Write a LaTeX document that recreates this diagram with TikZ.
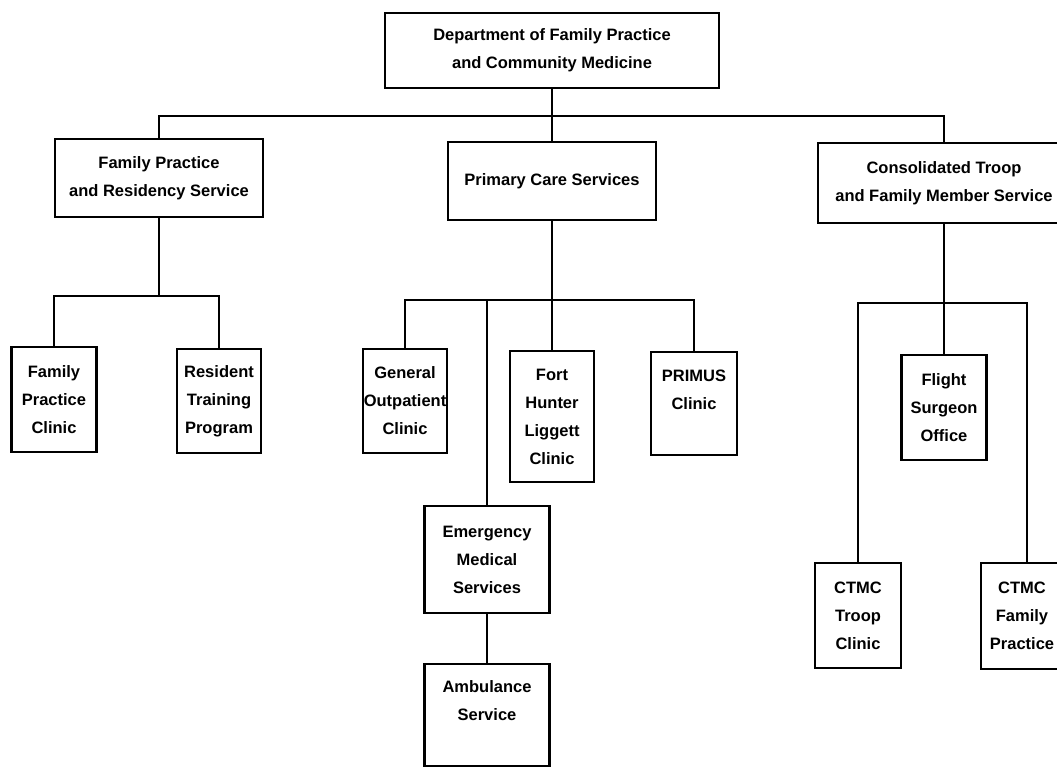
\documentclass[tikz,border=0pt]{standalone}
\usepackage{fontspec}
\setmainfont{Liberation Sans}
\usepackage{tikz}
\usetikzlibrary{positioning}

\tikzset{
  unit/.style={draw, line width=2.1pt, align=center, inner xsep=1pt,
    font=\bfseries\fontsize{16.5}{28}\selectfont},
  link/.style={line width=2.1pt}
}

\begin{document}
\begin{tikzpicture}[x=1pt, y=-1pt]
				\useasboundingbox (0,0) rectangle (1057,768);
				% top level
				\node[unit, minimum width=334pt, minimum height=75pt] (dept) at (552,50.5) {Department of Family Practice\\and Community Medicine};
				
				% services
				\node[unit, minimum width=208pt, minimum height=78pt] (fprs) at (159,178) {Family Practice\\and Residency Service};
				\node[unit, minimum width=208pt, minimum height=78pt] (pcs) at (552,181) {Primary Care Services};
				\node[unit, minimum width=252pt, minimum height=80pt] (ctfms) at (944,183) {Consolidated Troop\\and Family Member Service};
				
				% clinics
				\node[unit, minimum width=85pt, minimum height=105pt] (fpclinic) at (54,399.5) {Family\\Practice\\Clinic};
				\node[unit, minimum width=84pt, minimum height=104pt] (rtp) at (219,401) {Resident\\Training\\Program};
				\node[unit, minimum width=84pt, minimum height=104pt] (goc) at (405,401) {General\\Outpatient\\Clinic};
				\node[unit, minimum width=84pt, minimum height=131pt] (fhl) at (552,416.5) {Fort\\Hunter\\Liggett\\Clinic};
				\node[unit, minimum width=86pt, minimum height=103pt] (primus) at (694,403.5) {PRIMUS\\Clinic\\~};
				\node[unit, minimum width=125pt, minimum height=107pt] (ems) at (487,559.5) {Emergency\\Medical\\Services};
				\node[unit, minimum width=125pt, minimum height=102pt] (amb) at (487,715) {Ambulance\\Service\\~};
				\node[unit, minimum width=85pt, minimum height=105pt] (fso) at (944,407.5) {Flight\\Surgeon\\Office};
				\node[unit, minimum width=86pt, minimum height=105pt] (troop) at (858,615.5) {CTMC\\Troop\\Clinic};
				\node[unit, minimum width=82pt, minimum height=106pt] (ctmcfp) at (1022,616) {CTMC\\Family\\Practice};
				
				\coordinate (topbus) at (944,116);
				\coordinate (fbus) at (159,296);
				\coordinate (pbus) at (552,300);
				\coordinate (cbus) at (944,303);
				
				\draw[link] (dept.south) -- (pcs.north);
				\draw[link] (fprs.north) |- (topbus) -- (ctfms.north);
				
				\draw[link] (fprs.south) -- (fbus);
				\draw[link] (fpclinic.north) |- (fbus) -| (rtp.north);
				
				\draw[link] (pcs.south) -- (fhl.north);
				\draw[link] (goc.north) |- (pbus) -| (primus.north);
				\draw[link] (ems.north) -- (ems.north |- pbus);
				\draw[link] (ems.south) -- (amb.north);
				
				\draw[link] (ctfms.south) -- (fso.north);
				\draw[link] (troop.north) |- (cbus) -| ([xshift=5pt]ctmcfp.north);
\end{tikzpicture}
\end{document}
